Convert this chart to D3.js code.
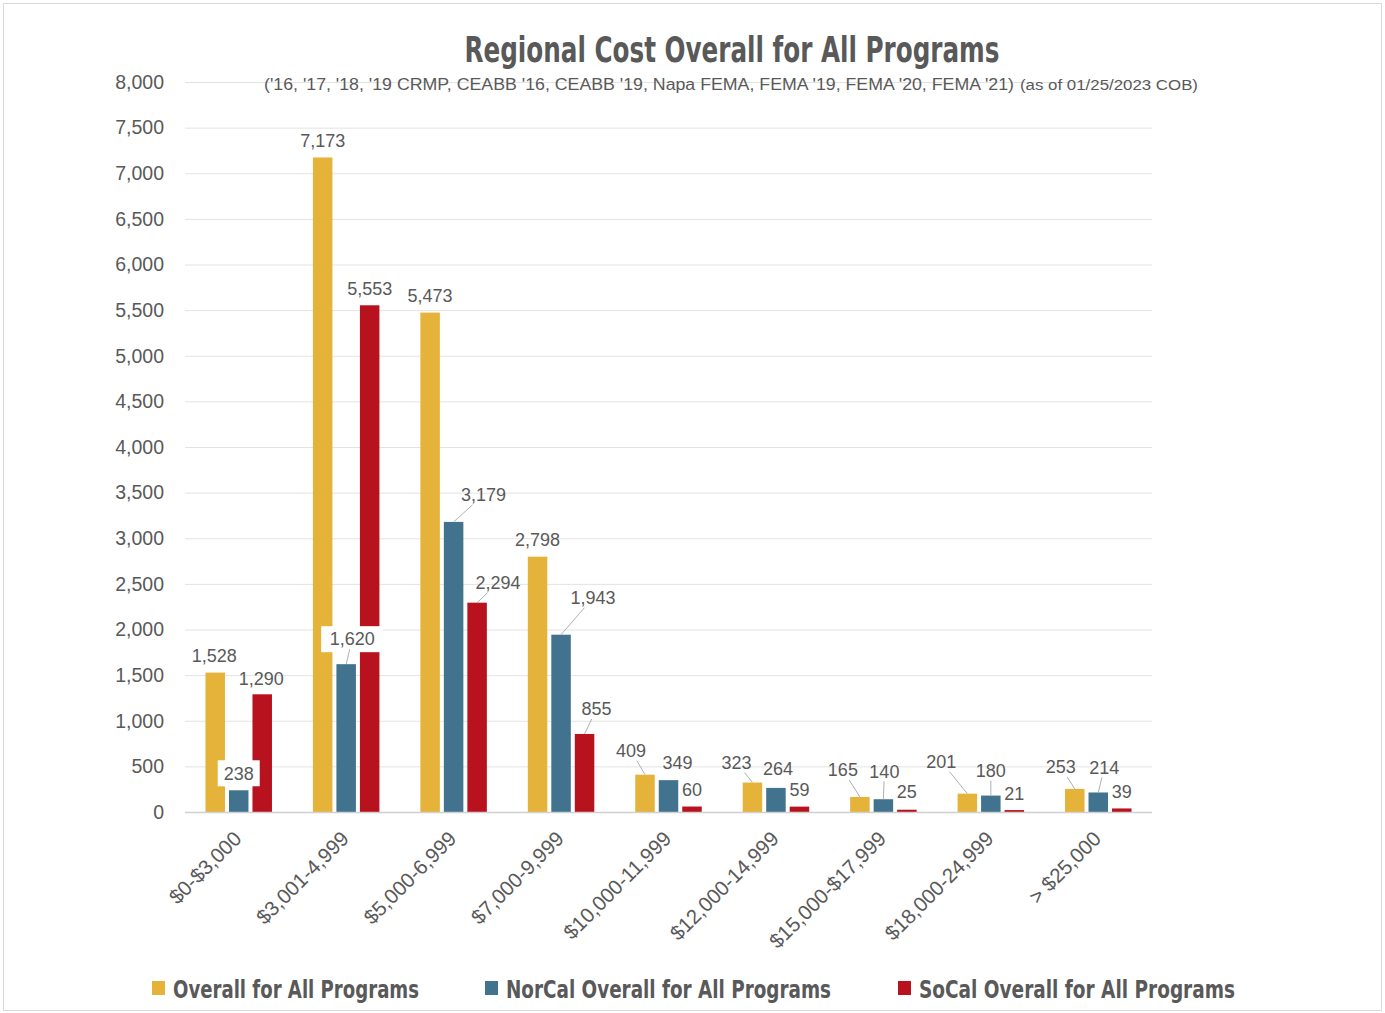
<!DOCTYPE html>
<html>
<head>
<meta charset="utf-8">
<script src="https://cdn.jsdelivr.net/npm/d3@7"></script>
<style>
  body { margin: 0; background: #fff; }
  svg text { fill: #595959; }
  .cond { font-family: "Liberation Sans Narrow", "DejaVu Sans Condensed", "DejaVu Sans", sans-serif; font-stretch: condensed; }
  .plain { font-family: "Liberation Sans", Arial, sans-serif; }
</style>
</head>
<body>
<div id="chart"></div>
<script>
// ---- data ----
const categories = ["$0-$3,000", "$3,001-4,999", "$5,000-6,999", "$7,000-9,999", "$10,000-11,999",
                    "$12,000-14,999", "$15,000-$17,999", "$18,000-24,999", "> $25,000"];
const seriesNames = ["Overall for All Programs", "NorCal Overall for All Programs", "SoCal Overall for All Programs"];
const overall = [1528, 7173, 5473, 2798, 409, 323, 165, 201, 253];
const norcal  = [238, 1620, 3179, 1943, 349, 264, 140, 180, 214];
const socal   = [1290, 5553, 2294, 855, 60, 59, 25, 21, 39];
const yTicks = d3.range(0, 8001, 500);

const titleText = "Regional Cost Overall for All Programs";
const subText = "('16, '17, '18, '19 CRMP, CEABB '16, CEABB '19, Napa FEMA, FEMA '19, FEMA '20, FEMA '21)";
const subNote = "(as of 01/25/2023 COB)";

// label nudges relative to bar top [dx, dy, leader, box] -- layout
const labelNudge = [
  [[-1,-17,0,0],[0,-17,0,1],[-1,-16,0,0]],
  [[0,-17,0,0],[6,-25,1,1],[0,-17,0,0]],
  [[0,-17,0,0],[30,-27,1,0],[21,-20,1,0]],
  [[0,-17,0,0],[32,-37,1,0],[12,-25,1,0]],
  [[-14,-24,1,0],[9,-17,0,0],[0,-17,0,0]],
  [[-16,-20,1,0],[2,-19,0,0],[0,-17,0,0]],
  [[-17,-27,1,0],[1,-28,1,0],[0,-18,0,0]],
  [[-26,-32,1,0],[0,-25,1,0],[0,-16,0,0]],
  [[-14,-22,1,0],[6,-25,1,0],[0,-17,0,0]]
];

const colors = ["#E5B33A", "#41738F", "#B8121E"];
const W = 1385, H = 1013;
const margin = {left: 185, right: 233, top: 82, bottom: 201};

const svg = d3.select("#chart").append("svg")
  .attr("width", W).attr("height", H);

svg.append("rect")
  .attr("x", 3.5).attr("y", 3.5).attr("width", W - 7).attr("height", H - 6)
  .attr("fill", "#fff").attr("stroke", "#d9d9d9");

const x0 = d3.scaleBand().domain(categories).range([margin.left, W - margin.right]).padding(0);
const yScale = d3.scaleLinear().domain([0, 8000]).range([H - margin.bottom, margin.top]);
const barW = 19.5, step = 23.5;

// gridlines
svg.append("g").selectAll("line").data(yTicks.filter(d => d > 0)).join("line")
  .attr("x1", margin.left).attr("x2", W - margin.right)
  .attr("y1", d => yScale(d) + 0.5).attr("y2", d => yScale(d) + 0.5)
  .attr("stroke", "#e3e3e3").attr("stroke-width", 1);

// y axis labels
svg.append("g").selectAll("text").data(yTicks).join("text")
  .attr("class", "plain")
  .attr("x", 164).attr("y", d => yScale(d))
  .attr("dy", "0.35em")
  .attr("text-anchor", "end")
  .attr("font-size", "19.5px")
  .text(d => d3.format(",")(d));

// bars
const series = [overall, norcal, socal];
const bars = [];
series.forEach((vals, s) => {
  vals.forEach((v, i) => {
    bars.push({s, i, v, cx: x0(categories[i]) + x0.bandwidth() / 2 + (s - 1) * step});
  });
});

svg.append("g").selectAll("rect").data(bars).join("rect")
  .attr("x", d => d.cx - barW / 2)
  .attr("y", d => yScale(d.v))
  .attr("width", barW)
  .attr("height", d => yScale(0) - yScale(d.v))
  .attr("fill", d => colors[d.s]);

// zero line
svg.append("line")
  .attr("x1", margin.left).attr("x2", W - margin.right)
  .attr("y1", yScale(0) + 0.5).attr("y2", yScale(0) + 0.5)
  .attr("stroke", "#d0d0d0").attr("stroke-width", 1.5);

// data labels
const lbl = svg.append("g");
bars.forEach(d => {
  const n = labelNudge[d.i][d.s];
  const bx = d.cx, by = yScale(d.v);
  const lx = bx + n[0], ly = by + n[1];
  const txt = d3.format(",")(d.v);
  const hw = txt.length * 5 + 2, hh = 9;
  if (n[3]) {
    lbl.append("rect")
      .attr("x", lx - hw - 4).attr("y", ly - hh - 4)
      .attr("width", 2 * hw + 8).attr("height", 2 * hh + 8)
      .attr("fill", "#fff");
  }
  if (n[2]) {
    // start the leader on the edge of the label box
    const vx = bx - lx, vy = by - ly;
    const t = Math.min(Math.abs(vx) > 0 ? hw / Math.abs(vx) : 1e9, Math.abs(vy) > 0 ? (hh + 1) / Math.abs(vy) : 1e9);
    lbl.append("line")
      .attr("x1", lx + vx * t).attr("y1", ly + vy * t)
      .attr("x2", bx).attr("y2", by)
      .attr("stroke", "#b0b0b0").attr("stroke-width", 1);
  }
  lbl.append("text")
    .attr("class", "plain")
    .attr("x", lx).attr("y", ly)
    .attr("dy", "0.35em")
    .attr("text-anchor", "middle")
    .attr("font-size", "18px")
    .text(txt);
});

// category labels
svg.append("g").selectAll("text").data(categories).join("text")
  .attr("class", "plain")
  .attr("text-anchor", "end")
  .attr("font-size", "20.5px")
  .attr("transform", d => `translate(${x0(d) + x0.bandwidth() / 2 + 4},${yScale(0) + 28}) rotate(-45)`)
  .text(d => d);

// title + subtitle
svg.append("text")
  .attr("class", "cond")
  .attr("x", 732).attr("y", 62)
  .attr("text-anchor", "middle")
  .attr("font-size", "35px").attr("font-weight", "bold")
  .attr("textLength", 535).attr("lengthAdjust", "spacingAndGlyphs")
  .text(titleText);

svg.append("text")
  .attr("class", "plain")
  .attr("x", 264).attr("y", 90)
  .attr("font-size", "16.5px")
  .attr("textLength", 750).attr("lengthAdjust", "spacingAndGlyphs")
  .text(subText);

svg.append("text")
  .attr("class", "plain")
  .attr("x", 1020).attr("y", 90)
  .attr("font-size", "14px")
  .attr("textLength", 178).attr("lengthAdjust", "spacingAndGlyphs")
  .text(subNote);

// legend
const legX = [152, 485, 898];
const legW = [246, 325, 316];
const leg = svg.append("g");
seriesNames.forEach((name, s) => {
  leg.append("rect")
    .attr("x", legX[s]).attr("y", 981)
    .attr("width", 13).attr("height", 14)
    .attr("fill", colors[s]);
  leg.append("text")
    .attr("class", "cond")
    .attr("x", legX[s] + 21).attr("y", 998)
    .attr("font-size", "25px").attr("font-weight", "bold")
    .attr("textLength", legW[s]).attr("lengthAdjust", "spacingAndGlyphs")
    .text(name);
});
</script>
</body>
</html>
